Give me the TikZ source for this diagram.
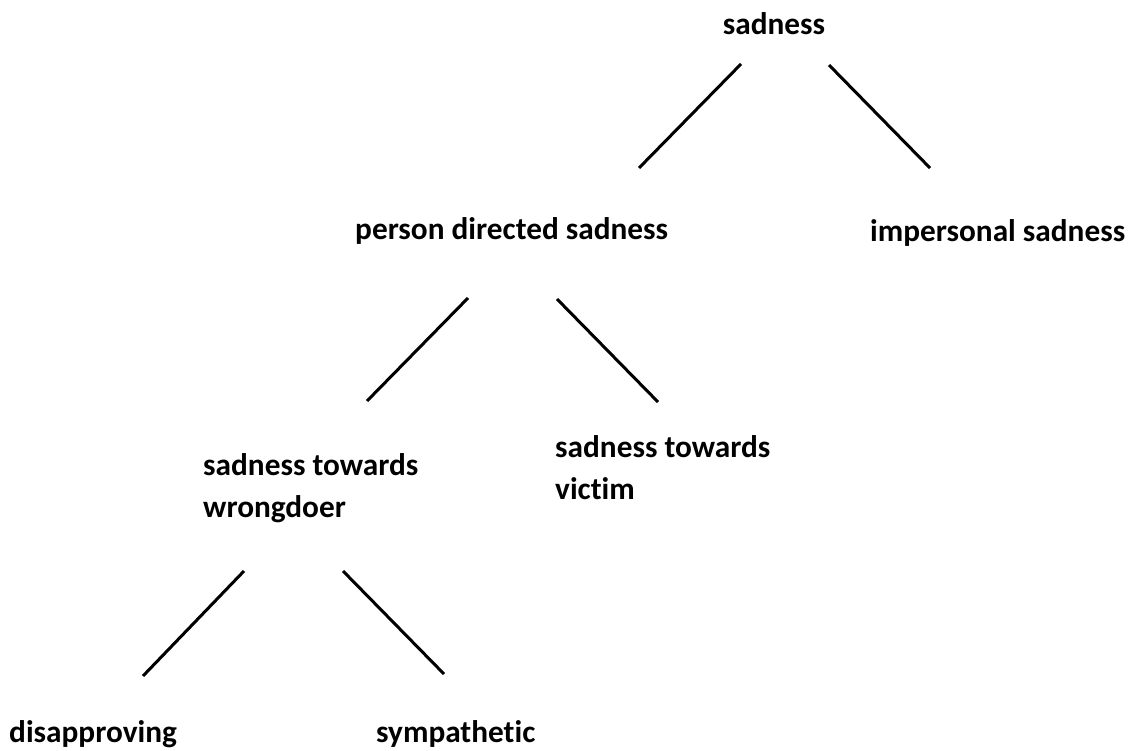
\documentclass[tikz,border=0pt]{standalone}
\usepackage{fontspec}
\setmainfont{Carlito}[Ligatures=NoCommon]
\begin{document}
\begin{tikzpicture}[x=1pt,y=-1pt,
  lbl/.style={inner sep=0pt,font=\fontsize{31.3}{42}\selectfont\bfseries,align=left},
  edge/.style={line width=3pt}]
\useasboundingbox (0,0) rectangle (1134,751);
% multi-line nodes: base anchor = baseline of last line
\node[lbl,anchor=base] (root) at (774,35) {sadness};
\node[lbl,anchor=base west] (pds) at (355,240) {person directed sadness};
\node[lbl,anchor=base west] (imp) at (870,241) {impersonal sadness};
\node[lbl,anchor=base west] (stw) at (203,517) {sadness towards\\wrongdoer};
\node[lbl,anchor=base west] (stv) at (555,499) {sadness towards\\victim};
\node[lbl,anchor=base west] (dis) at (9,742) {disapproving};
\node[lbl,anchor=base west] (sym) at (376,742) {sympathetic};
\coordinate (a1) at (741,64);  \coordinate (a2) at (639,168);
\coordinate (b1) at (829,65);  \coordinate (b2) at (930,168);
\coordinate (c1) at (468,298); \coordinate (c2) at (367,401);
\coordinate (d1) at (557,299); \coordinate (d2) at (658,402);
\coordinate (e1) at (244,571); \coordinate (e2) at (143,676);
\coordinate (f1) at (343,571); \coordinate (f2) at (444,674);
\draw[edge] (a1) -- (a2);
\draw[edge] (b1) -- (b2);
\draw[edge] (c1) -- (c2);
\draw[edge] (d1) -- (d2);
\draw[edge] (e1) -- (e2);
\draw[edge] (f1) -- (f2);
\end{tikzpicture}
\end{document}
